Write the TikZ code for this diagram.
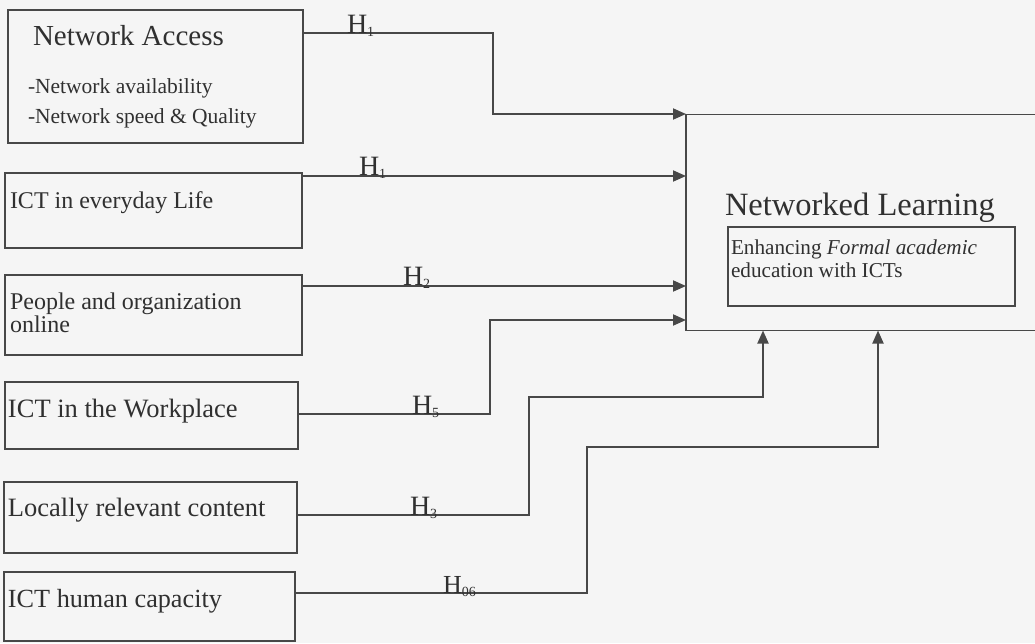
\documentclass[tikz,border=0pt]{standalone}
\usepackage{fontspec}
\setmainfont{Liberation Serif}
\usetikzlibrary{arrows.meta}
\definecolor{bgcol}{RGB}{245,245,245}
\definecolor{linecol}{RGB}{72,72,72}
\definecolor{textcol}{RGB}{48,48,48}
\newcommand\myfs[1]{\fontsize{#1}{#1}\selectfont}
\newcommand\hsub[1]{\raisebox{-3pt}{\myfs{14}#1}}
\tikzset{
  box/.style={draw=linecol, line width=1.9pt, rectangle, inner sep=0pt, outer sep=0pt},
  txt/.style={text=textcol, inner sep=0pt, outer sep=0pt, anchor=base west},
  conn/.style={draw=linecol, line width=1.9pt},
  arr/.style={conn, -{Triangle[length=13pt,width=11pt]}},
  hlab/.style={txt, font=\myfs{28}}
}
\begin{document}
\begin{tikzpicture}[x=1pt,y=-1pt]
\useasboundingbox (0,0) rectangle (1035,643);
\fill[bgcol] (0,0) rectangle (1035,643);
\clip (0,0) rectangle (1035,643);

% left boxes
\node[box, minimum width=295, minimum height=133] (na) at (155.5,76.5) {};
\node[box, minimum width=297, minimum height=75] (ict) at (153.5,210.5) {};
\node[box, minimum width=297, minimum height=80] (ppl) at (153.5,315) {};
\node[box, minimum width=293, minimum height=67] (wp) at (151.5,415.5) {};
\node[box, minimum width=293, minimum height=71] (loc) at (150.5,517.5) {};
\node[box, minimum width=291, minimum height=69] (hum) at (149.5,606.5) {};

% texts in left boxes
\node[txt, font=\myfs{29}] (natitle) at (33,45) {Network Access};
\node[txt, font=\myfs{21.5}] (na1) at (28,93) {-Network availability};
\node[txt, font=\myfs{21.5}] (na2) at (28,123) {-Network speed \& Quality};
\node[txt, font=\myfs{24}] (icttxt) at (10,208) {ICT in everyday Life};
\node[txt, font=\myfs{24}] (ppl1) at (10,309) {People and organization};
\node[txt, font=\myfs{24}] (ppl2) at (10,332) {online};
\node[txt, font=\myfs{26.5}] (wptxt) at (8,417) {ICT in the Workplace};
\node[txt, font=\myfs{26.5}] (loctxt) at (8,516) {Locally relevant content};
\node[txt, font=\myfs{26.2}] (humtxt) at (8,607) {ICT human capacity};

% Networked Learning box
\node[box, minimum width=360, minimum height=216] (nl) at (866,222.5) {};
\node[txt, font=\myfs{32.5}] (nltitle) at (725,215) {Networked Learning};
\node[box, minimum width=287, minimum height=79] (nlin) at (871.5,266.5) {};
\node[txt, font=\myfs{21.2}] (nlin1) at (731,254) {Enhancing \textit{Formal academic}};
\node[txt, font=\myfs{21.2}] (nlin2) at (731,277) {education with ICTs};

% connectors
\coordinate (c1a) at (493,33);
\coordinate (c1b) at (493,114);
\draw[arr] (na.east |- c1a) -- (c1a) -- (c1b) -- (nl.west |- c1b);

\coordinate (c2) at (0,176);
\draw[arr] (ict.east |- c2) -- (nl.west |- c2);

\coordinate (c3) at (0,286);
\draw[arr] (ppl.east |- c3) -- (nl.west |- c3);

\coordinate (c4a) at (490,414);
\coordinate (c4b) at (490,320);
\draw[arr] (wp.east |- c4a) -- (c4a) -- (c4b) -- (nl.west |- c4b);

\coordinate (c5a) at (529,515);
\coordinate (c5b) at (529,397);
\coordinate (c5c) at (763,397);
\draw[arr] (loc.east |- c5a) -- (c5a) -- (c5b) -- (c5c) -- (c5c |- nl.south);

\coordinate (c6a) at (587,593);
\coordinate (c6b) at (587,447);
\coordinate (c6c) at (878,447);
\draw[arr] (hum.east |- c6a) -- (c6a) -- (c6b) -- (c6c) -- (c6c |- nl.south);

% hypothesis labels
\node[hlab] (h1) at (347,33) {H\hsub{1}};
\node[hlab] (h4) at (359,175) {H\hsub{1}};
\node[hlab] (h2) at (403,285) {H\hsub{2}};
\node[hlab] (h5) at (412,414) {H\hsub{5}};
\node[hlab] (h3) at (410,515) {H\hsub{3}};
\node[hlab, font=\myfs{26}] (h6) at (443,593) {H\hsub{06}};
\end{tikzpicture}
\end{document}
